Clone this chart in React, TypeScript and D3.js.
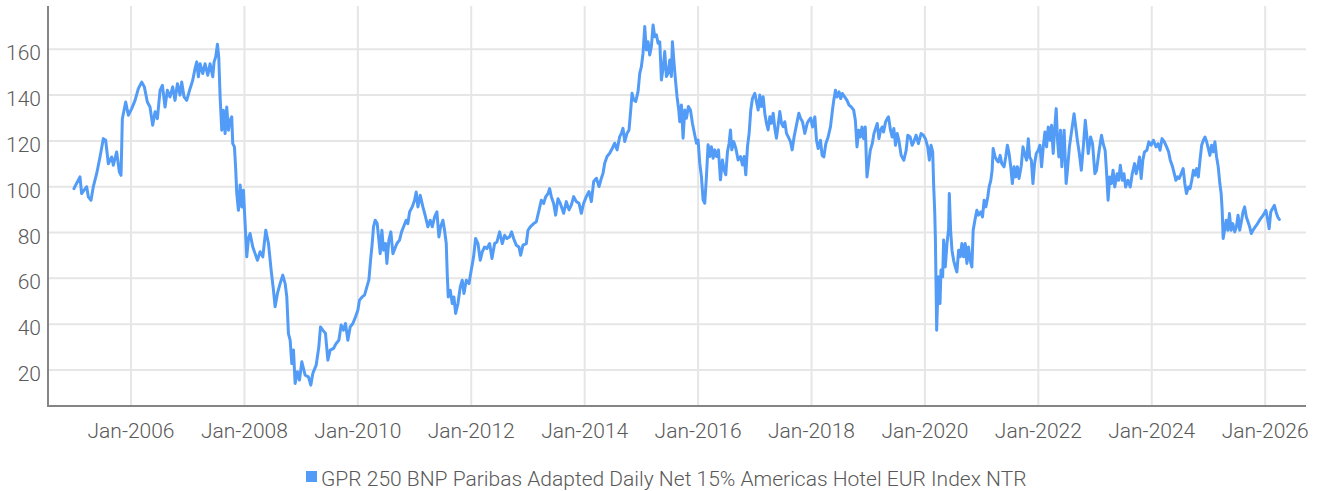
import React from "react";
import * as d3 from "d3";

// [decimal year, index value]
const indexSeries: [number, number][] = [
  [2004.994, 99.2], [2005.03, 101], [2005.1, 104.3], [2005.129, 97], [2005.218, 100], [2005.247, 95.6],
  [2005.294, 94.1], [2005.335, 100], [2005.394, 105.7], [2005.453, 113], [2005.512, 121], [2005.553, 120.3],
  [2005.6, 110], [2005.659, 113], [2005.688, 109.4], [2005.747, 115.2], [2005.794, 106.5], [2005.824, 105],
  [2005.847, 129.7], [2005.906, 137], [2005.953, 131.2], [2006.012, 134.1], [2006.071, 137.7], [2006.129, 142.8],
  [2006.188, 145.7], [2006.235, 143.6], [2006.288, 137], [2006.335, 134.8], [2006.382, 126.8], [2006.424, 132.7],
  [2006.465, 129.7], [2006.512, 142.1], [2006.553, 144.3], [2006.6, 134.8], [2006.641, 142.1], [2006.688, 139.2],
  [2006.735, 143.6], [2006.776, 137.7], [2006.818, 145], [2006.865, 140], [2006.894, 145.7], [2006.935, 139.2],
  [2006.982, 137.7], [2007.041, 142.8], [2007.088, 146.5], [2007.129, 151.6], [2007.159, 154.5], [2007.188, 148],
  [2007.218, 153.7], [2007.265, 149.4], [2007.306, 153.7], [2007.353, 148.7], [2007.394, 153.7], [2007.441, 148],
  [2007.465, 154.5], [2007.494, 156.7], [2007.524, 162.2], [2007.547, 156.7], [2007.571, 139.2], [2007.6, 124.7],
  [2007.629, 133.4], [2007.659, 123.2], [2007.688, 134.8], [2007.718, 124.7], [2007.747, 129], [2007.776, 130.5],
  [2007.794, 118.8], [2007.824, 117.4], [2007.847, 107.2], [2007.865, 97], [2007.894, 89.7], [2007.924, 100.8],
  [2007.953, 91.2], [2007.982, 98.5], [2008.012, 83.9], [2008.041, 69.4], [2008.071, 77.4], [2008.1, 79.6],
  [2008.147, 73.7], [2008.188, 70.8], [2008.229, 67.9], [2008.276, 71.6], [2008.324, 69.4], [2008.376, 81],
  [2008.424, 75.2], [2008.471, 63.6], [2008.512, 54.8], [2008.541, 47.6], [2008.582, 53.4], [2008.629, 57.7],
  [2008.676, 61.4], [2008.718, 57.7], [2008.747, 51.9], [2008.776, 35.9], [2008.806, 33], [2008.835, 22.8],
  [2008.865, 28.7], [2008.894, 14.1], [2008.935, 19.2], [2008.971, 15.6], [2009.012, 23.6], [2009.071, 17.7],
  [2009.129, 17], [2009.171, 13.4], [2009.206, 18.5], [2009.265, 22.1], [2009.312, 30.1], [2009.341, 38.8],
  [2009.382, 37.4], [2009.429, 36], [2009.471, 24.3], [2009.512, 28.7], [2009.571, 29.4], [2009.618, 31.6],
  [2009.665, 33], [2009.706, 39.6], [2009.747, 37.4], [2009.782, 40.3], [2009.824, 33], [2009.865, 38.8],
  [2009.912, 40.3], [2009.959, 43.2], [2010.0, 46.1], [2010.029, 50.5], [2010.076, 51.9], [2010.118, 52.7],
  [2010.159, 56.3], [2010.194, 59.2], [2010.224, 67.9], [2010.253, 75.2], [2010.276, 82.5], [2010.306, 85.4],
  [2010.341, 83.9], [2010.365, 78.1], [2010.394, 70.8], [2010.424, 81], [2010.453, 72.3], [2010.488, 75.2],
  [2010.512, 66.5], [2010.547, 76.7], [2010.582, 80.3], [2010.618, 70.8], [2010.653, 73], [2010.688, 75.2],
  [2010.735, 76.7], [2010.771, 80.3], [2010.806, 82.5], [2010.853, 85.4], [2010.882, 83.9], [2010.912, 89],
  [2010.959, 91.2], [2011.0, 94.1], [2011.029, 97.7], [2011.059, 91.2], [2011.1, 96.3], [2011.147, 91.2],
  [2011.194, 86.8], [2011.235, 82.5], [2011.276, 85.4], [2011.312, 82.5], [2011.353, 86.8], [2011.394, 89],
  [2011.429, 78.1], [2011.459, 82.5], [2011.5, 85.4], [2011.529, 81], [2011.559, 75.2], [2011.576, 62.1],
  [2011.594, 51.9], [2011.629, 54.8], [2011.665, 49], [2011.694, 51.9], [2011.724, 44.7], [2011.765, 49],
  [2011.806, 56.3], [2011.841, 59.2], [2011.871, 53.4], [2011.912, 59.2], [2011.959, 57.7], [2012.0, 63.6],
  [2012.041, 69.4], [2012.076, 77.4], [2012.118, 75.2], [2012.159, 67.9], [2012.194, 71.6], [2012.235, 73.7],
  [2012.276, 73], [2012.324, 75.2], [2012.365, 68.7], [2012.412, 75.2], [2012.453, 75.9], [2012.5, 80.3],
  [2012.547, 75.2], [2012.588, 78.8], [2012.629, 77.4], [2012.676, 78.1], [2012.712, 80.3], [2012.747, 77.4],
  [2012.794, 74.5], [2012.841, 73.7], [2012.871, 70.1], [2012.912, 74.5], [2012.971, 75.2], [2013.0, 81],
  [2013.041, 82.5], [2013.1, 83.9], [2013.147, 84.7], [2013.194, 89.7], [2013.235, 94.1], [2013.276, 92.7],
  [2013.312, 95.6], [2013.353, 97], [2013.382, 99.2], [2013.412, 95.6], [2013.453, 92.7], [2013.488, 87.6],
  [2013.529, 94.8], [2013.571, 92.7], [2013.629, 88.4], [2013.676, 93.5], [2013.724, 89.9], [2013.765, 92.1],
  [2013.806, 95.7], [2013.853, 93.5], [2013.9, 92.8], [2013.941, 88.4], [2013.982, 92.8], [2014.029, 95.7],
  [2014.076, 97.9], [2014.118, 93.5], [2014.159, 102.3], [2014.206, 103.7], [2014.253, 100.1], [2014.294, 103.7],
  [2014.324, 105.9], [2014.353, 110.3], [2014.394, 113.2], [2014.441, 114.6], [2014.488, 116.8], [2014.529, 119],
  [2014.571, 116.1], [2014.618, 121.9], [2014.647, 123.3], [2014.676, 125.5], [2014.706, 119.7], [2014.747, 123.3],
  [2014.782, 124.8], [2014.812, 133.5], [2014.835, 140.8], [2014.865, 137.9], [2014.9, 137.2], [2014.941, 141.5],
  [2014.971, 149.5], [2015.0, 152.4], [2015.029, 158.3], [2015.059, 169.9], [2015.088, 159.7], [2015.118, 163.3],
  [2015.147, 157.5], [2015.176, 161.2], [2015.206, 170.6], [2015.235, 165.5], [2015.265, 166.3], [2015.294, 162.6],
  [2015.324, 163.3], [2015.353, 146.6], [2015.382, 151.7], [2015.412, 159], [2015.441, 148.1], [2015.471, 149.5],
  [2015.5, 155.3], [2015.529, 148.1], [2015.547, 163.3], [2015.576, 153.9], [2015.606, 145.2], [2015.629, 139.3],
  [2015.659, 133.5], [2015.676, 128.4], [2015.706, 135.7], [2015.735, 121.2], [2015.765, 133.5], [2015.794, 129.9],
  [2015.829, 135], [2015.865, 133.5], [2015.9, 127.7], [2015.941, 122.6], [2015.971, 119], [2016.0, 120.4],
  [2016.029, 110.3], [2016.059, 104.4], [2016.088, 94.3], [2016.118, 92.8], [2016.147, 104.4], [2016.176, 118.3],
  [2016.206, 113.2], [2016.235, 117.5], [2016.265, 112.4], [2016.294, 116.1], [2016.324, 113.2], [2016.359, 116.1],
  [2016.394, 103], [2016.429, 111.7], [2016.459, 107.3], [2016.488, 105.2], [2016.518, 115.3], [2016.547, 119],
  [2016.571, 124.8], [2016.594, 116.1], [2016.629, 119.7], [2016.665, 116.8], [2016.706, 111.7], [2016.747, 113.2],
  [2016.782, 109.5], [2016.812, 113.2], [2016.841, 105.2], [2016.871, 117.5], [2016.9, 123.3], [2016.929, 133.5],
  [2016.959, 138.6], [2017.0, 140.8], [2017.029, 137.2], [2017.059, 133.5], [2017.088, 140], [2017.118, 135],
  [2017.147, 139.3], [2017.176, 132.1], [2017.206, 127.7], [2017.235, 124.8], [2017.265, 130.6], [2017.294, 127.7],
  [2017.324, 132.1], [2017.353, 125.5], [2017.382, 121.2], [2017.412, 127], [2017.441, 132.8], [2017.471, 127.7],
  [2017.5, 126.2], [2017.529, 128.4], [2017.559, 123.3], [2017.588, 121.9], [2017.629, 119.7], [2017.659, 116.1],
  [2017.694, 121.9], [2017.735, 127], [2017.776, 132.1], [2017.806, 129.9], [2017.841, 128.4], [2017.882, 123.3],
  [2017.924, 127.7], [2017.959, 129.2], [2017.985, 130], [2018.018, 126.1], [2018.059, 130.5], [2018.088, 120.3],
  [2018.117, 116.7], [2018.158, 120.3], [2018.187, 113.7], [2018.217, 113], [2018.252, 118.8], [2018.293, 121.7],
  [2018.334, 126.1], [2018.369, 133.4], [2018.392, 137.7], [2018.422, 142.1], [2018.451, 139.2], [2018.486, 141.4],
  [2018.515, 138.5], [2018.544, 140.7], [2018.585, 139.2], [2018.626, 137.7], [2018.662, 135.6], [2018.703, 134.8],
  [2018.744, 133.4], [2018.773, 129], [2018.802, 117.4], [2018.831, 124.7], [2018.861, 121.7], [2018.89, 126.1],
  [2018.919, 121], [2018.948, 126.1], [2018.978, 104.3], [2019.007, 110.1], [2019.036, 115.9], [2019.071, 118.8],
  [2019.101, 123.2], [2019.13, 125.4], [2019.159, 127.6], [2019.189, 121], [2019.218, 124.7], [2019.247, 126.1],
  [2019.271, 123.9], [2019.306, 128.3], [2019.335, 129.7], [2019.358, 130.5], [2019.393, 124.7], [2019.423, 121.7],
  [2019.452, 125.4], [2019.481, 118.1], [2019.511, 123.2], [2019.54, 120.3], [2019.581, 113.7], [2019.628, 111.6],
  [2019.669, 115.9], [2019.698, 122.5], [2019.739, 121.7], [2019.774, 118.1], [2019.803, 119.6], [2019.844, 122.5],
  [2019.885, 118.8], [2019.932, 123.2], [2019.973, 122.5], [2020.008, 121], [2020.049, 117.4], [2020.078, 111.6],
  [2020.108, 118.1], [2020.137, 115.2], [2020.155, 99.9], [2020.172, 89.7], [2020.184, 78.1], [2020.196, 57.7],
  [2020.207, 37.4], [2020.225, 51.9], [2020.242, 60.7], [2020.266, 49], [2020.283, 63.6], [2020.313, 60.7],
  [2020.33, 76.7], [2020.359, 65], [2020.389, 75.2], [2020.418, 81.7], [2020.43, 97], [2020.453, 81],
  [2020.477, 72.3], [2020.506, 67.9], [2020.535, 65], [2020.564, 62.8], [2020.594, 72.3], [2020.623, 69.4],
  [2020.652, 75.2], [2020.681, 69.4], [2020.711, 75.2], [2020.74, 66.5], [2020.769, 73.7], [2020.799, 67.9],
  [2020.828, 65], [2020.851, 81], [2020.881, 85.4], [2020.916, 89.7], [2020.945, 87.6], [2020.986, 89],
  [2021.015, 86.8], [2021.044, 94.1], [2021.074, 91.2], [2021.109, 95.6], [2021.132, 99.9], [2021.162, 102.8],
  [2021.185, 107.2], [2021.203, 116.7], [2021.238, 113], [2021.267, 111.6], [2021.296, 110.8], [2021.326, 113.7],
  [2021.355, 110.1], [2021.396, 108.7], [2021.425, 113], [2021.454, 118.1], [2021.484, 114.5], [2021.513, 108.7],
  [2021.542, 101.4], [2021.571, 108.7], [2021.601, 104.3], [2021.63, 108.7], [2021.659, 103.6], [2021.7, 109.4],
  [2021.729, 117.4], [2021.765, 113.7], [2021.794, 111.6], [2021.823, 121], [2021.847, 113], [2021.876, 111.6],
  [2021.905, 101.4], [2021.934, 110.1], [2021.964, 114.5], [2021.999, 115.9], [2022.028, 118.1], [2022.057, 108.7],
  [2022.087, 117.4], [2022.116, 123.9], [2022.145, 117.4], [2022.175, 126.1], [2022.204, 120.3], [2022.233, 126.8],
  [2022.262, 114.5], [2022.286, 124.7], [2022.315, 134.1], [2022.338, 120.3], [2022.362, 113], [2022.391, 124.7],
  [2022.414, 108.7], [2022.455, 124.7], [2022.49, 101.4], [2022.513, 107.2], [2022.548, 117.4], [2022.589, 124.7],
  [2022.63, 131.9], [2022.659, 126.1], [2022.688, 120.3], [2022.723, 114.5], [2022.758, 107.2], [2022.793, 117.4],
  [2022.828, 129], [2022.851, 123.2], [2022.88, 114.5], [2022.921, 121.7], [2022.956, 118.8], [2022.997, 105.7],
  [2023.026, 107.2], [2023.073, 115.9], [2023.114, 122.5], [2023.143, 118.8], [2023.178, 115.9], [2023.201, 107.2],
  [2023.23, 94.1], [2023.259, 104.3], [2023.289, 101.4], [2023.318, 107.2], [2023.347, 99.9], [2023.388, 105.7],
  [2023.417, 102.8], [2023.446, 109.4], [2023.481, 102.8], [2023.51, 105.7], [2023.539, 99.9], [2023.58, 102.8],
  [2023.621, 99.9], [2023.656, 105.7], [2023.697, 110.1], [2023.726, 105.7], [2023.755, 108.7], [2023.784, 113],
  [2023.813, 103.6], [2023.843, 111.6], [2023.872, 115.2], [2023.913, 115.9], [2023.948, 119.6], [2023.988, 118.1],
  [2024.029, 120.3], [2024.076, 117.4], [2024.111, 118.8], [2024.146, 115.9], [2024.181, 121], [2024.222, 119.6],
  [2024.262, 117.4], [2024.297, 115.2], [2024.327, 111.6], [2024.367, 108.7], [2024.397, 105.7], [2024.426, 102.8],
  [2024.455, 104.3], [2024.484, 103.6], [2024.519, 105.7], [2024.554, 107.9], [2024.583, 101.4], [2024.612, 97],
  [2024.647, 99.9], [2024.676, 99.2], [2024.706, 102.8], [2024.735, 107.2], [2024.764, 105], [2024.793, 107.9],
  [2024.822, 104.3], [2024.851, 111.6], [2024.88, 118.1], [2024.91, 120.3], [2024.939, 121.7], [2024.968, 119.6],
  [2024.997, 116.7], [2025.026, 113.7], [2025.055, 118.1], [2025.085, 115.2], [2025.114, 119.6], [2025.143, 113],
  [2025.172, 108.7], [2025.201, 101.4], [2025.224, 97], [2025.242, 89.7], [2025.259, 77.4], [2025.283, 81],
  [2025.312, 85.4], [2025.341, 81], [2025.37, 88.3], [2025.399, 81], [2025.429, 83.9], [2025.464, 80.3],
  [2025.493, 82.5], [2025.522, 87.6], [2025.551, 81], [2025.58, 84.7], [2025.609, 89], [2025.638, 91.2],
  [2025.668, 86.8], [2025.697, 84.7], [2025.726, 82.5], [2025.755, 79.6], [2025.784, 81], [2025.825, 82.5],
  [2025.866, 83.9], [2025.901, 85.4], [2025.942, 86.8], [2025.983, 88.3], [2026.012, 89.7], [2026.041, 86.1],
  [2026.07, 81.7], [2026.099, 89], [2026.128, 90.4], [2026.163, 91.9], [2026.192, 89], [2026.222, 86.8],
  [2026.251, 85.7],
];

const xTickYears = [2006, 2008, 2010, 2012, 2014, 2016, 2018, 2020, 2022, 2024, 2026];
const xTickLabels = xTickYears.map((y) => `Jan-${y}`);
const yTicks = [20, 40, 60, 80, 100, 120, 140, 160];
const seriesName = "GPR 250 BNP Paribas Adapted Daily Net 15% Americas Hotel EUR Index NTR";

const W = 1323;
const H = 491;
const left = 48;
const right = 1306;
const top = 6;
const bottom = 406;
const lineColor = "#529cf7";
const textColor = "#595959";
const font = "Roboto, 'Noto Sans', sans-serif";

export default function App() {
  const x = d3.scaleLinear().domain([2004.536, 2026.72]).range([left, right]);
  const y = d3.scaleLinear().domain([4.28, 178.9]).range([bottom, top]);
  const line = d3
    .line<[number, number]>()
    .x((d) => x(d[0]))
    .y((d) => y(d[1]));

  return (
    <svg
      width={W}
      height={H}
      viewBox={`0 0 ${W} ${H}`}
      style={{ position: "absolute", left: 0, top: 0, background: "#fff" }}
    >
      {/* grid */}
      {yTicks.map((v) => (
        <line key={"gy" + v} x1={left} x2={right} y1={y(v)} y2={y(v)} stroke="#e6e6e6" strokeWidth={2} />
      ))}
      {xTickYears.map((t) => (
        <line key={"gx" + t} x1={x(t)} x2={x(t)} y1={top} y2={bottom} stroke="#e6e6e6" strokeWidth={2} />
      ))}
      {/* axes */}
      <line x1={left} x2={left} y1={top} y2={bottom + 1} stroke="#858585" strokeWidth={2} />
      <line x1={left} x2={right} y1={bottom} y2={bottom} stroke="#858585" strokeWidth={2} />
      {/* series */}
      <path d={line(indexSeries) || ""} fill="none" stroke={lineColor} strokeWidth={3} strokeLinejoin="round" strokeLinecap="round" />
      {/* y labels */}
      {yTicks.map((v) => (
        <text key={"ly" + v} x={41} y={y(v) + 11} textAnchor="end" fontFamily={font} fontSize={21} fontWeight={300} fill={textColor}>
          {v}
        </text>
      ))}
      {/* x labels */}
      {xTickYears.map((t, i) => (
        <text key={"lx" + t} x={x(t)} y={438} textAnchor="middle" fontFamily={font} fontSize={21} fontWeight={300} fill={textColor}>
          {xTickLabels[i]}
        </text>
      ))}
      {/* legend */}
      <rect x={306} y={471} width={11} height={11} fill={lineColor} />
      <text x={321} y={486} fontFamily={font} fontSize={21} fontWeight={300} fill={textColor}>
        {seriesName}
      </text>
    </svg>
  );
}
